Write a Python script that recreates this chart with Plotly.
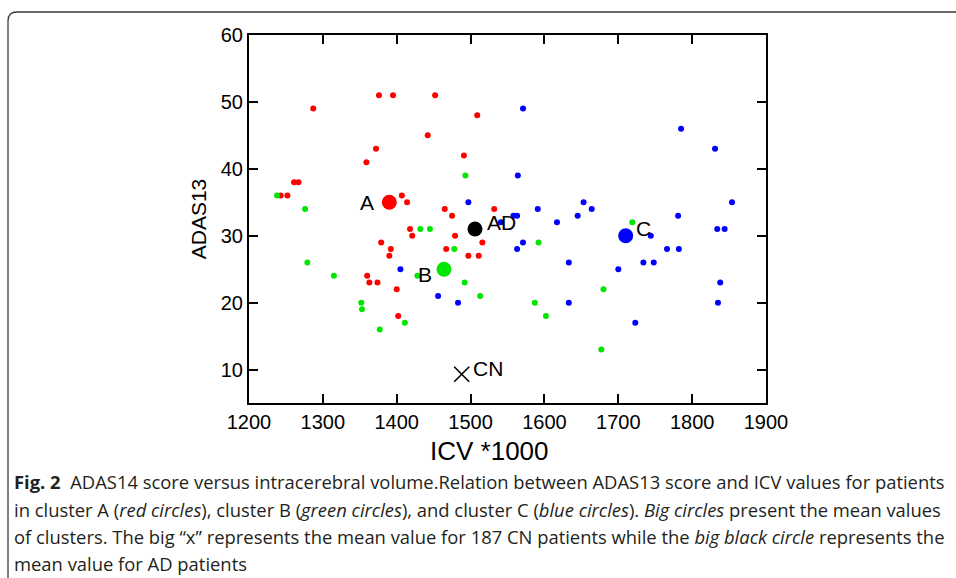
import plotly.graph_objects as go

# ---------------- data ----------------
red_icv = [1287, 1376, 1395, 1452, 1509, 1442, 1372, 1359, 1491, 1261, 1267, 1243, 1252,
           1407, 1414, 1465, 1475, 1532, 1418, 1421, 1379, 1392, 1390, 1479, 1467, 1497,
           1511, 1516, 1360, 1363, 1374, 1400, 1402]
red_adas = [49, 51, 51, 51, 48, 45, 43, 41, 42, 38, 38, 36, 36,
            36, 35, 34, 33, 34, 31, 30, 29, 28, 27, 30, 28, 27,
            27, 29, 24, 23, 23, 22, 18]

green_icv = [1238, 1276, 1493, 1432, 1445, 1478, 1428, 1315, 1279, 1492, 1513, 1352, 1353,
             1411, 1377, 1719, 1592, 1680, 1587, 1602, 1677]
green_adas = [36, 34, 39, 31, 31, 28, 24, 24, 26, 23, 21, 20, 19,
              17, 16, 32, 29, 22, 20, 18, 13]

blue_icv = [1497, 1571, 1785, 1831, 1564, 1591, 1653, 1664, 1645, 1781, 1854, 1558, 1563,
            1541, 1617, 1744, 1834, 1844, 1571, 1563, 1766, 1782, 1633, 1734, 1748, 1700,
            1838, 1633, 1835, 1723, 1405, 1456, 1483]
blue_adas = [35, 49, 46, 43, 39, 34, 35, 34, 33, 33, 35, 33, 33,
             32, 32, 30, 31, 31, 29, 28, 28, 28, 26, 26, 26, 25,
             23, 20, 20, 17, 25, 21, 20]

mean_labels = ["A", "B", "C", "AD"]
mean_icv = [1390, 1464, 1710, 1506]
mean_adas = [35, 25, 30, 31]
mean_colors = ["#ff0000", "#00e600", "#0000ff", "#000000"]

cn_label = "CN"
cn_icv = [1488]
cn_adas = [9.3]

x_ticks = [1200, 1300, 1400, 1500, 1600, 1700, 1800, 1900]
y_ticks = [10, 20, 30, 40, 50, 60]
x_title = "ICV *1000"
y_title = "ADAS13"

caption_lines = [
    "<b>Fig. 2</b>\u00a0\u00a0ADAS14 score versus intracerebral volume.Relation between ADAS13 score and ICV values for patients",
    "in cluster A (<i>red circles</i>), cluster B (<i>green circles</i>), and cluster C (<i>blue circles</i>). <i>Big circles</i> present the mean values",
    "of clusters. The big \u201cx\u201d represents the mean value for 187 CN patients while the <i>big black circle</i> represents the",
    "mean value for AD patients",
]

# ---------------- figure ----------------
W, H = 956, 578
L, R, T, B = 249, 766, 35, 403   # plot-area pixel box


def px_x(p):
    return (p - L) / (R - L)


def px_y(p):
    return (B - p) / (B - T)


fig = go.Figure()
small = dict(size=6, line=dict(width=0))
fig.add_trace(go.Scatter(x=red_icv, y=red_adas, mode="markers",
                         marker=dict(color="#ff0000", **small), showlegend=False))
fig.add_trace(go.Scatter(x=green_icv, y=green_adas, mode="markers",
                         marker=dict(color="#00e600", **small), showlegend=False))
fig.add_trace(go.Scatter(x=blue_icv, y=blue_adas, mode="markers",
                         marker=dict(color="#0000ff", **small), showlegend=False))
fig.add_trace(go.Scatter(x=mean_icv, y=mean_adas, mode="markers",
                         marker=dict(color=mean_colors, size=15, line=dict(width=0)),
                         showlegend=False))
fig.add_trace(go.Scatter(x=cn_icv, y=cn_adas, mode="markers",
                         marker=dict(symbol="x-thin-open", size=15, color="#000000",
                                     line=dict(width=1.6, color="#000000")),
                         showlegend=False))

label_font = dict(family="Liberation Sans, Arial, sans-serif", size=21, color="#000000")
shifts = {"A": ("right", -13, 0), "B": ("right", -10, -5),
          "C": ("left", 8, 7), "AD": ("left", 10, 7)}
for lab, xv, yv in zip(mean_labels, mean_icv, mean_adas):
    anc, xs, ys = shifts[lab]
    fig.add_annotation(x=xv, y=yv, text=lab, showarrow=False, xanchor=anc,
                       yanchor="middle", xshift=xs, yshift=ys, font=label_font)
fig.add_annotation(x=cn_icv[0], y=cn_adas[0], text=cn_label, showarrow=False,
                   xanchor="left", yanchor="middle", xshift=9, yshift=6, font=label_font)

# x-axis title (slightly left of centre, as in the reference)
fig.add_annotation(xref="paper", yref="paper", x=px_x(489), y=px_y(451), text=x_title,
                   showarrow=False, xanchor="center", yanchor="middle",
                   font=dict(family="Liberation Sans, Arial, sans-serif", size=26,
                             color="#000000"))

# caption
cap_y = [481, 509, 536, 563]
for txt, yy in zip(caption_lines, cap_y):
    fig.add_annotation(xref="paper", yref="paper", x=px_x(12), y=px_y(yy), text=txt,
                       showarrow=False, xanchor="left", yanchor="middle",
                       font=dict(family="Open Sans, Noto Sans, sans-serif", size=18.4,
                                 color="#231f20"))

# outer frame with rounded top-left corner
x8, x16, x_end = px_x(8), px_x(17), px_x(970)
y12, y21, y_end = px_y(12), px_y(21), px_y(590)
fig.add_shape(type="path", xref="paper", yref="paper",
              path=f"M {x8},{y_end} L {x8},{y21} Q {x8},{y12} {x16},{y12} L {x_end},{y12}",
              line=dict(color="#3a3a3a", width=1.3))

tick_font = dict(family="Liberation Sans, Arial, sans-serif", size=20, color="#000000")
axis_common = dict(showline=True, linecolor="#000000", linewidth=2, mirror="ticks",
                   ticks="inside", ticklen=9, tickwidth=2, tickcolor="#000000",
                   showgrid=False, zeroline=False, tickfont=tick_font)
fig.update_xaxes(range=[1200, 1900], tickvals=x_ticks, ticktext=[str(v) for v in x_ticks],
                 **axis_common)
fig.update_yaxes(range=[5, 60], tickvals=y_ticks, ticktext=[str(v) for v in y_ticks],
                 title=dict(text=y_title, standoff=8,
                            font=dict(family="Liberation Sans, Arial, sans-serif", size=21,
                                      color="#000000")),
                 **axis_common)

fig.update_layout(width=W, height=H, autosize=False,
                  margin=dict(l=L, r=W - R, t=T, b=H - B),
                  paper_bgcolor="#ffffff", plot_bgcolor="#ffffff")

fig.write_html("out.html", config={"displayModeBar": False},
               post_script="document.body.style.margin='0';document.body.style.overflow='hidden';")
